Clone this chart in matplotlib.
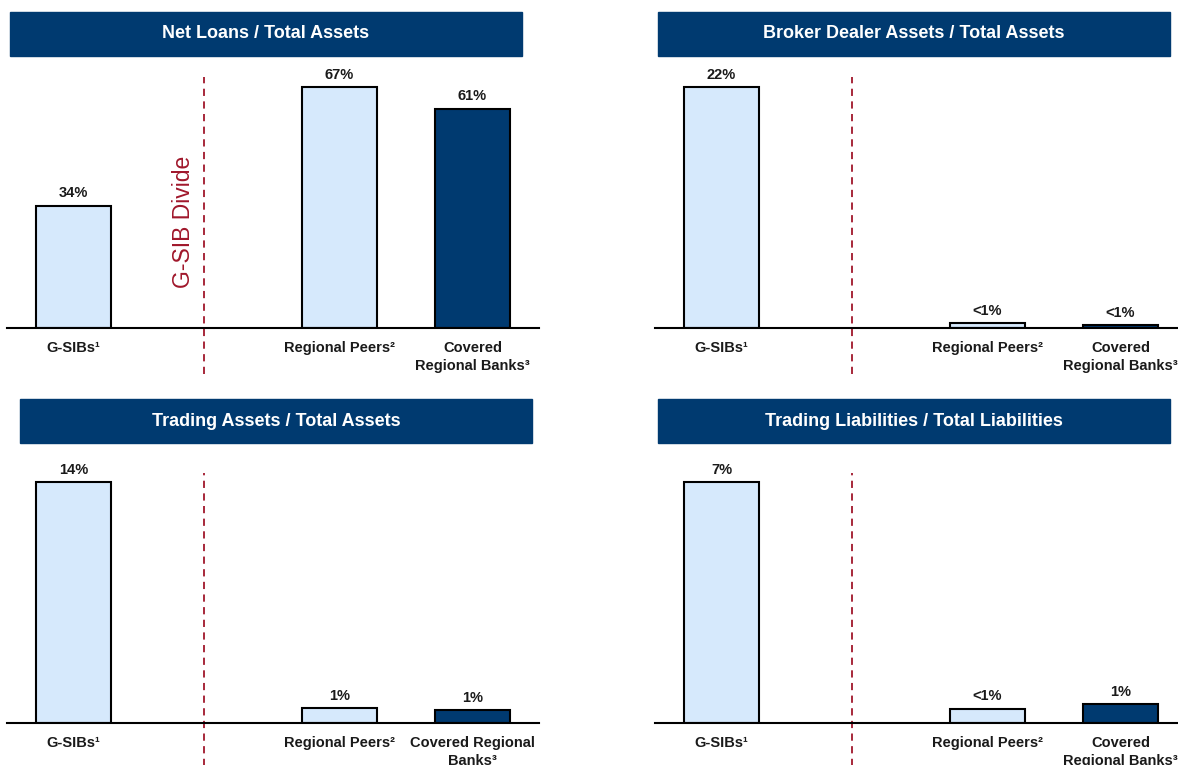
import matplotlib
matplotlib.use("Agg")
import matplotlib.pyplot as plt
from matplotlib.patches import Rectangle

plt.rcParams['font.family'] = ['Liberation Sans', 'DejaVu Sans']

# data (percent)
titles = ["Net Loans / Total Assets",
          "Broker Dealer Assets / Total Assets",
          "Trading Assets / Total Assets",
          "Trading Liabilities / Total Liabilities"]
net_loans = [34, 67, 61]
broker_dealer = [22, 0.45, 0.25]
trading_assets = [14, 0.85, 0.75]
trading_liabs = [7, 0.42, 0.55]
value_labels = [["34%", "67%", "61%"],
                ["22%", "<1%", "<1%"],
                ["14%", "1%", "1%"],
                ["7%", "<1%", "1%"]]
categories = [["G-SIBs¹", "Regional Peers²", "Covered\nRegional Banks³"],
              ["G-SIBs¹", "Regional Peers²", "Covered\nRegional Banks³"],
              ["G-SIBs¹", "Regional Peers²", "Covered Regional\nBanks³"],
              ["G-SIBs¹", "Regional Peers²", "Covered\nRegional Banks³"]]
series = [net_loans, broker_dealer, trading_assets, trading_liabs]

positions = [0, 2, 3]
light = "#D6E9FC"
dark = "#003A70"
band = "#003A70"
divide_red = "#A0172B"

W, H = 1178, 765
fig = plt.figure(figsize=(W / 100, H / 100), dpi=100)

# pixel layout: (axes left, baseline y from top) and title band (x, y top)
axes_px = [(7, 328), (655, 328), (7, 723), (655, 723)]
band_px = [(10, 12), (658, 12), (20, 399), (658, 399)]
ax_w, ax_h = 532, 260
band_w, band_h = 512, 44

for i in range(4):
    left, base = axes_px[i]
    ax = fig.add_axes([left / W, (H - base) / H, ax_w / W, ax_h / H])
    vals = series[i]
    colors = [light, light, dark]
    ax.bar(positions, vals, width=0.56, color=colors, edgecolor="black",
           linewidth=1.5, zorder=2)
    ax.set_xlim(-0.5, 3.5)
    ax.set_ylim(0, max(vals) * 1.08)
    for s in ["left", "right", "top"]:
        ax.spines[s].set_visible(False)
    ax.spines["bottom"].set_linewidth(1.5)
    ax.set_xticks([])
    ax.set_yticks([])

    for x, v, lab in zip(positions, vals, value_labels[i]):
        ax.annotate(lab, (x, v), xytext=(0, 4), textcoords="offset points",
                    ha="center", va="bottom", fontsize=10.5,
                    fontweight="bold", color="#1a1a1a")
    for x, cat in zip(positions, categories[i]):
        ax.annotate(cat, (x, 0), xytext=(0, -9.5), textcoords="offset points",
                    ha="center", va="top", fontsize=10.5, fontweight="bold",
                    color="#1a1a1a", linespacing=1.35, annotation_clip=False)

    # G-SIB divide line
    if base < 400:
        ymin, ymax = -46 / ax_h, (base - 77) / ax_h
    else:
        ymin, ymax = -(H - base + 5) / ax_h, (base - 473) / ax_h
    ax.axvline(0.98, ymin=ymin, ymax=ymax, color=divide_red, lw=1.3,
               dashes=(4, 3), clip_on=False, zorder=1)
    if i == 0:
        ax.text(0.83, 0.41, "G-SIB Divide", rotation=90, ha="center",
                va="center", fontsize=16.5, color=divide_red,
                transform=ax.get_xaxis_transform())

    # title band
    bx, by = band_px[i]
    fig.patches.append(Rectangle((bx / W, (H - by - band_h) / H),
                                 band_w / W, band_h / H, color=band,
                                 transform=fig.transFigure, zorder=0))
    fig.text((bx + band_w / 2) / W, (H - by - band_h / 2) / H, titles[i],
             ha="center", va="center", color="white", fontsize=13,
             fontweight="bold")

fig.savefig("out.png", dpi=100)
